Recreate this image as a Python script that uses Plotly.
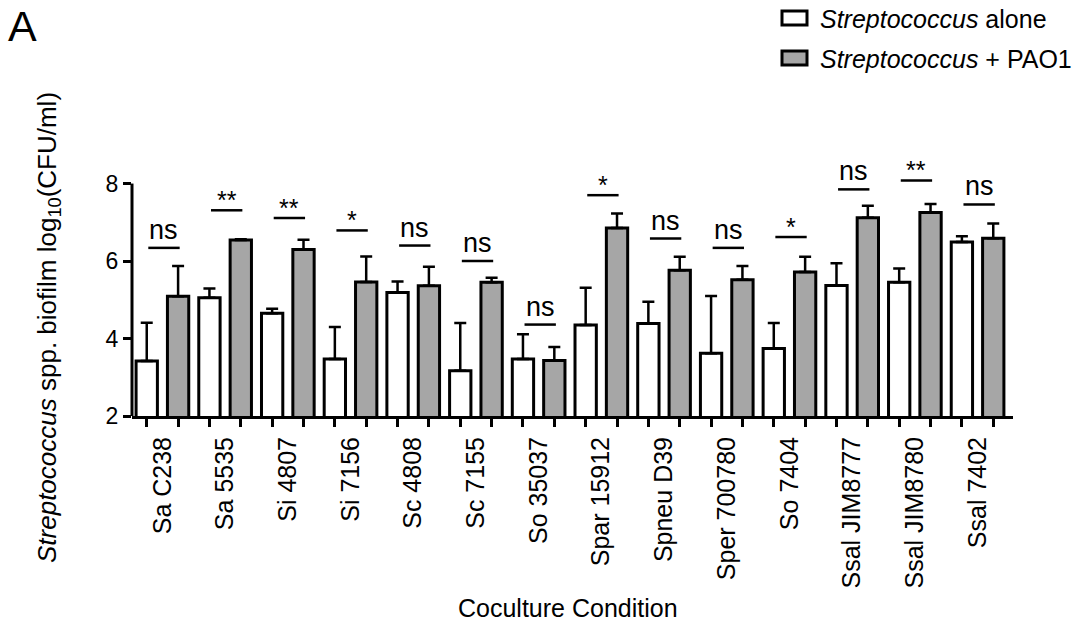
import plotly.graph_objects as go

# Streptococcus strains (coculture conditions)
strains = ["Sa C238", "Sa 5535", "Si 4807", "Si 7156", "Sc 4808", "Sc 7155", "So 35037",
           "Spar 15912", "Spneu D39", "Sper 700780", "So 7404", "Ssal JIM8777",
           "Ssal JIM8780", "Ssal 7402"]

# log10(CFU/ml) means and upper error (SD)
alone_mean = [3.42, 5.05, 4.65, 3.47, 5.19, 3.17, 3.47, 4.35, 4.39, 3.62, 3.74, 5.37, 5.45, 6.49]
alone_err = [0.99, 0.24, 0.12, 0.83, 0.28, 1.23, 0.64, 0.96, 0.56, 1.48, 0.66, 0.57, 0.36, 0.15]
pao1_mean = [5.09, 6.54, 6.30, 5.46, 5.36, 5.45, 3.43, 6.85, 5.76, 5.52, 5.72, 7.12, 7.25, 6.59]
pao1_err = [0.78, 0.02, 0.25, 0.66, 0.49, 0.12, 0.35, 0.38, 0.35, 0.35, 0.39, 0.31, 0.22, 0.38]

# significance marks and the height of each comparison bracket
sig_labels = ["ns", "**", "**", "*", "ns", "ns", "ns", "*", "ns", "ns", "*", "ns", "**", "ns"]
sig_heights = [6.34, 7.31, 7.11, 6.79, 6.40, 6.00, 4.36, 7.70, 6.58, 6.34, 6.62, 7.85, 8.08, 7.46]

y_ticks = [2, 4, 6, 8]

FONT = "Liberation Sans, Arial, Helvetica, sans-serif"
GREY = "#a6a6a6"

n = len(strains)
x_alone = [2 * i for i in range(n)]
x_pao1 = [2 * i + 1 for i in range(n)]
x_group = [2 * i + 0.5 for i in range(n)]

W, H = 1078, 627
ML, MR, MT, MB = 132, 65, 170, 211
PW, PH = W - ML - MR, H - MT - MB


def px_x(px):
    return (px - ML) / PW


def px_y(py):
    return (H - MB - py) / PH


fig = go.Figure()

bar_line = dict(color="black", width=3)
fig.add_trace(go.Bar(
    x=x_alone, y=alone_mean, width=0.68, name="Streptococcus alone",
    marker=dict(color="white", line=bar_line),
    error_y=dict(type="data", array=alone_err, arrayminus=[0] * n, symmetric=False,
                 color="black", thickness=2.5, width=6),
    showlegend=False,
))
fig.add_trace(go.Bar(
    x=x_pao1, y=pao1_mean, width=0.68, name="Streptococcus + PAO1",
    marker=dict(color=GREY, line=bar_line),
    error_y=dict(type="data", array=pao1_err, arrayminus=[0] * n, symmetric=False,
                 color="black", thickness=2.5, width=6),
    showlegend=False,
))

shapes = []
annotations = []

# y axis line, stopping at the top tick
shapes.append(dict(type="line", xref="paper", yref="y", x0=0, x1=0,
                   y0=y_ticks[0], y1=y_ticks[-1], line=dict(color="black", width=3)))

# significance brackets
for i, (lab, h) in enumerate(zip(sig_labels, sig_heights)):
    shapes.append(dict(type="line", xref="x", yref="y", x0=2 * i + 0.05, x1=2 * i + 1.05,
                       y0=h, y1=h, line=dict(color="black", width=2.5)))
    is_ns = lab == "ns"
    annotations.append(dict(
        x=2 * i + 0.55, y=h, xref="x", yref="y", text=lab, showarrow=False,
        xanchor="center", yanchor="bottom", yshift=1 if is_ns else -6,
        font=dict(family=FONT, size=27 if is_ns else 25, color="black"),
    ))

# legend
legend_rows = [("<i>Streptococcus</i> alone", "white", 18),
               ("<i>Streptococcus</i> + PAO1", GREY, 58)]
for text, fill, cy in legend_rows:
    shapes.append(dict(type="rect", xref="paper", yref="paper",
                       x0=px_x(782), x1=px_x(807), y0=px_y(cy + 7), y1=px_y(cy - 7),
                       fillcolor=fill, line=dict(color="black", width=3)))
    annotations.append(dict(x=px_x(818), y=px_y(cy + 1), xref="paper", yref="paper",
                            text=text, showarrow=False, xanchor="left", yanchor="middle",
                            font=dict(family=FONT, size=25, color="black")))

# panel letter
annotations.append(dict(x=px_x(6), y=px_y(0), xref="paper", yref="paper", text="A",
                        showarrow=False, xanchor="left", yanchor="top",
                        font=dict(family=FONT, size=43, color="black")))

# axis titles
annotations.append(dict(x=px_x(48), y=px_y(328), xref="paper", yref="paper",
                        text="<i>Streptococcus</i> spp. biofilm log<sub>10</sub>(CFU/ml)",
                        textangle=-90, showarrow=False, xanchor="center", yanchor="middle",
                        font=dict(family=FONT, size=26, color="black")))
annotations.append(dict(x=px_x(568), y=px_y(608), xref="paper", yref="paper",
                        text="Coculture Condition", showarrow=False,
                        xanchor="center", yanchor="middle",
                        font=dict(family=FONT, size=25, color="black")))

fig.update_layout(
    width=W, height=H,
    margin=dict(l=ML, r=MR, t=MT, b=MB, autoexpand=False),
    paper_bgcolor="white", plot_bgcolor="white",
    barmode="overlay",
    font=dict(family=FONT, color="black"),
    shapes=shapes, annotations=annotations,
    xaxis=dict(
        range=[-0.47, 27.63], tickmode="array", tickvals=x_group, ticktext=strains,
        tickangle=-90, ticks="outside", ticklen=8, tickcolor="rgba(0,0,0,0)",
        tickfont=dict(family=FONT, size=25, color="black"),
        showline=True, linewidth=3, linecolor="black",
        showgrid=False, zeroline=False, automargin=False,
        minor=dict(tickmode="array", tickvals=x_alone + x_pao1, ticks="outside",
                   ticklen=8, tickwidth=3, tickcolor="black", showgrid=False),
    ),
    yaxis=dict(
        range=[2, 8.35], tickmode="array", tickvals=y_ticks,
        ticks="outside", ticklen=8, tickwidth=3, tickcolor="black",
        tickfont=dict(family=FONT, size=23, color="black"),
        showline=False, showgrid=False, zeroline=False, automargin=False,
    ),
)

fig.write_html("out.html")
